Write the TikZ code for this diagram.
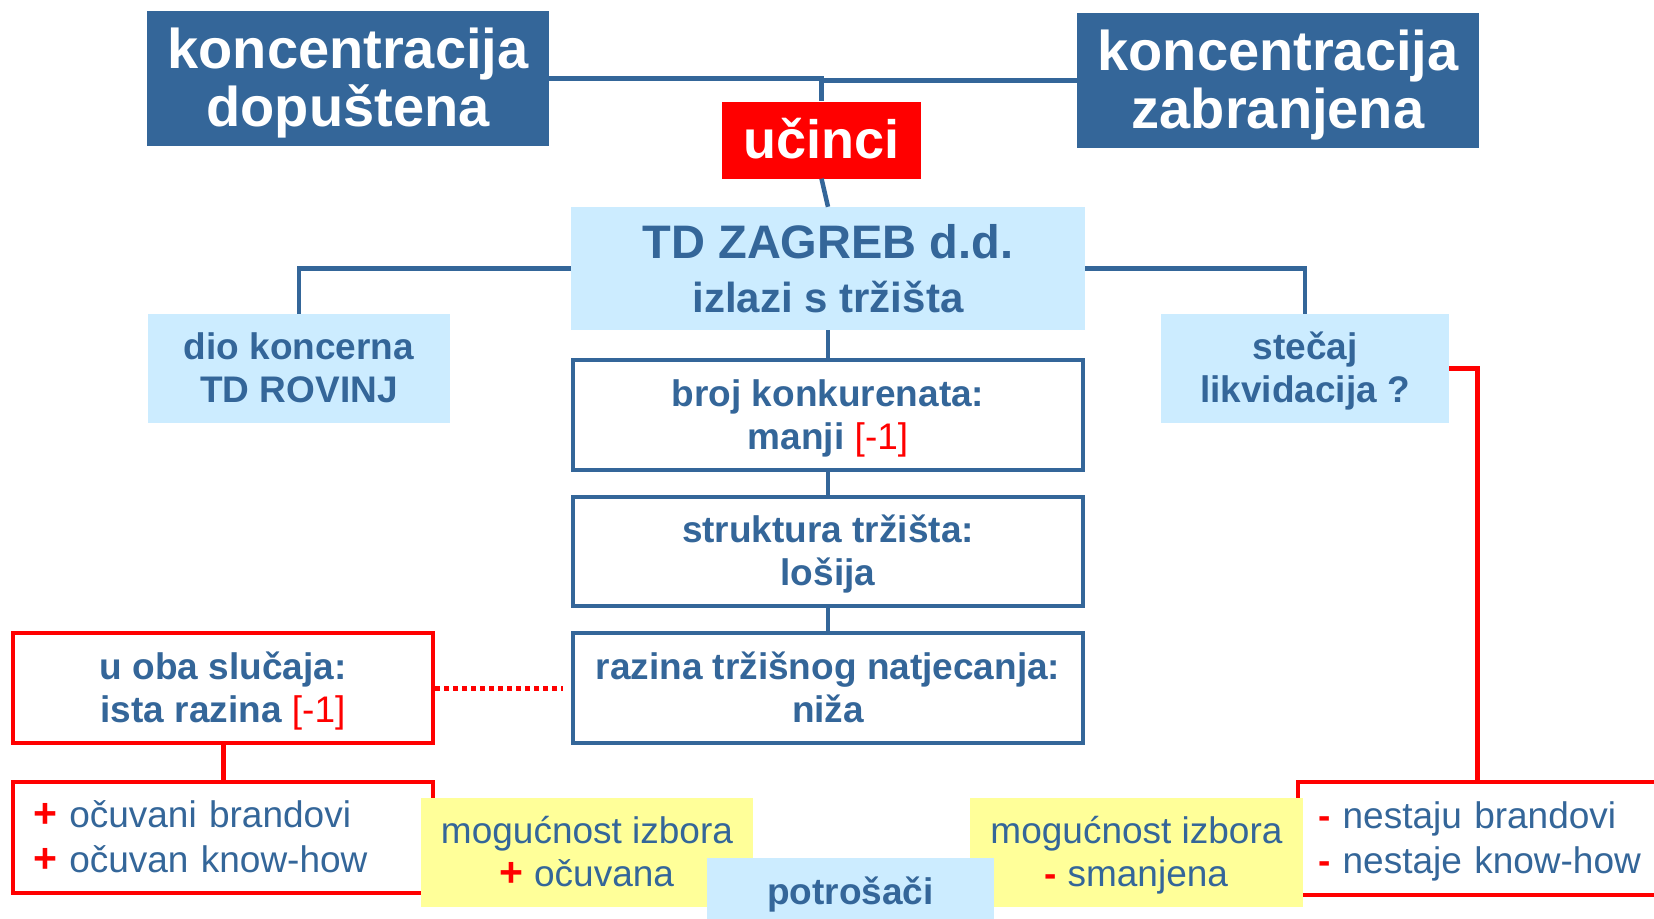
\documentclass[tikz,border=0pt]{standalone}
\usepackage{fontspec}
\setmainfont{Liberation Sans}
\definecolor{dblue}{HTML}{346699}
\definecolor{lblue}{HTML}{CCECFF}
\definecolor{yell}{HTML}{FFFF99}
\definecolor{rred}{HTML}{FF0000}
\newcommand{\plusmark}{\textcolor{rred}{{\bfseries\fontsize{41}{41}\selectfont +}}}
\newcommand{\minusmark}{\textcolor{rred}{\bfseries -}}
\newcommand{\redneg}{\textcolor{rred}{\mdseries[-1]}}
\newcommand{\tstrut}{\rule{0pt}{0.905em}}
\newcommand{\bstrut}{\rule[-0.212em]{0pt}{0pt}}
\tikzset{
  darkbox/.style={fill=dblue, text=white, font=\bfseries\fontsize{56}{58}\selectfont,
    align=center, inner sep=0pt},
  redhead/.style={fill=rred, text=white, font=\bfseries\fontsize{54}{56}\selectfont,
    align=center, inner sep=0pt},
  lightbox/.style={fill=lblue, text=dblue, font=\bfseries\fontsize{37}{43}\selectfont,
    align=center, inner sep=0pt},
  outlinebox/.style={draw=dblue, line width=4pt, fill=white, text=dblue,
    font=\bfseries\fontsize{37}{43}\selectfont, align=center, inner sep=0pt},
  redbox/.style={draw=rred, line width=4.5pt, fill=white, text=dblue,
    font=\bfseries\fontsize{37}{43}\selectfont, align=center, inner sep=0pt},
  redlist/.style={draw=rred, line width=4.5pt, fill=white, text=dblue,
    font=\fontsize{37}{45}\selectfont, align=left, inner ysep=0pt},
  yellbox/.style={fill=yell, text=dblue, font=\fontsize{37}{43}\selectfont,
    align=center, inner sep=0pt},
  blueline/.style={draw=dblue, line width=4.5pt},
  redline/.style={draw=rred, line width=5pt},
  reddots/.style={draw=rred, line width=5pt, dash pattern=on 5pt off 4pt}
}
\begin{document}
\begin{tikzpicture}[x=1pt,y=-1pt]
\useasboundingbox (0,0) rectangle (1654,918);
\fill[white] (0,0) rectangle (1654,918);

% top boxes
\node[darkbox, minimum width=402pt, minimum height=135pt] (kd) at (348,78.5)
  {\tstrut koncentracija\\dopuštena\bstrut};
\node[darkbox, minimum width=402pt, minimum height=135pt] (kz) at (1278,80.5)
  {\tstrut koncentracija\\zabranjena\bstrut};
\node[redhead, minimum width=199pt, minimum height=77pt] (uc) at (821.5,140)
  {\tstrut učinci\bstrut};

\node[lightbox, minimum width=514pt, minimum height=123pt,
  font=\bfseries\fontsize{42}{54}\selectfont] (td) at (828,268.5)
  {{\fontsize{47}{54}\selectfont\tstrut TD ZAGREB d.d.}\\izlazi s tržišta\bstrut};
\node[lightbox, minimum width=302pt, minimum height=109pt] (dio) at (299,368.5)
  {\tstrut dio koncerna\\TD ROVINJ\bstrut};
\node[lightbox, minimum width=288pt, minimum height=109pt] (st) at (1305,368.5)
  {\tstrut stečaj\\likvidacija ?\bstrut};

% chain
\node[outlinebox, minimum width=510pt, minimum height=110pt] (broj) at (828,415)
  {\tstrut broj konkurenata:\\manji \redneg\bstrut};
\node[outlinebox, minimum width=510pt, minimum height=109pt] (str) at (828,551.5)
  {\tstrut struktura tržišta:\\lošija\bstrut};
\node[outlinebox, minimum width=510pt, minimum height=110pt] (raz) at (828,688)
  {\tstrut razina tržišnog natjecanja:\\niža\bstrut};

% left red boxes
\node[redbox, minimum width=420pt, minimum height=110pt] (uoba) at (223,688)
  {\tstrut u oba slučaja:\\ista razina \redneg\bstrut};
\node[redlist, text width=380pt, inner xsep=20pt, minimum height=111pt] (ll) at (223,837.5)
  {\tstrut\plusmark\ očuvani brandovi\\\plusmark\ očuvan know-how\bstrut};

% right red box (runs past the right edge)
\node[redlist, text width=332pt, inner xsep=20pt, minimum height=113pt] (lr) at (1484,838.5)
  {\tstrut\minusmark\ nestaju brandovi\\\minusmark\ nestaje know-how\bstrut};
\path (lr.north west) ++(182,0) coordinate (lrtop);

% yellow boxes
\node[yellbox, minimum width=332pt, minimum height=109pt] (yl) at (587,852.5)
  {\tstrut mogućnost izbora\\\plusmark\ očuvana\bstrut};
\node[yellbox, minimum width=333pt, minimum height=109pt] (yr) at (1136.5,852.5)
  {\tstrut mogućnost izbora\\\minusmark\ smanjena\bstrut};

% consumers
\node[lightbox, minimum width=287pt, minimum height=68pt] (pot) at (850.5,892)
  {\tstrut potrošači\bstrut};

% connectors
\draw[blueline] (kd.east) -| (uc.north);
\draw[blueline] (kz.west) -| (uc.north);
\draw[blueline] (uc.south) -- (td.north);
\draw[blueline] (td.west) -| (dio.north);
\draw[blueline] (td.east) -| (st.north);
\draw[blueline] (td.south) -- (broj.north);
\draw[blueline] (broj.south) -- (str.north);
\draw[blueline] (str.south) -- (raz.north);
\draw[redline] (uoba.south) -- (ll.north);
\draw[redline] (st.east) -| (lrtop);
\draw[reddots, shorten >=8pt] (uoba.east) -- (raz.west);
\end{tikzpicture}
\end{document}
